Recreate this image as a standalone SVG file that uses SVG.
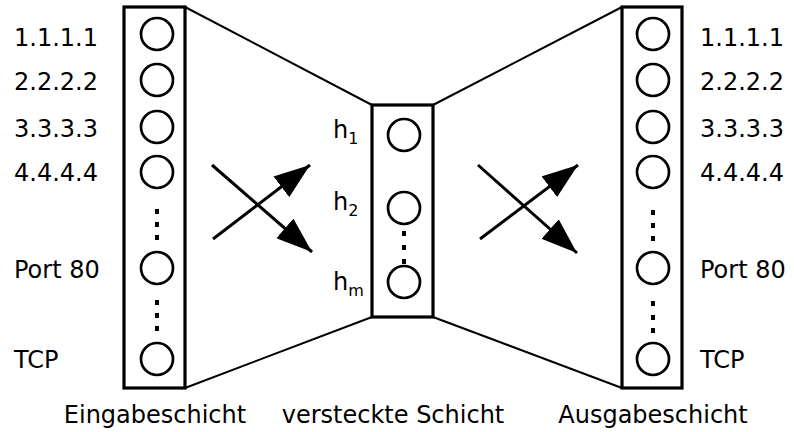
<svg xmlns="http://www.w3.org/2000/svg" width="794" height="432" viewBox="0 0 794 432">
<defs>
<style>
.box{fill:#fff;stroke:#000;stroke-width:3.2}
.n{fill:none;stroke:#000;stroke-width:2.7}
.e{fill:none;stroke:#000;stroke-width:2}
.a{fill:none;stroke:#000;stroke-width:3}
.t{font-family:"DejaVu Sans",Verdana,sans-serif;font-size:24px;fill:#000}
.s{font-size:16px}
.d{fill:#000}
</style>
<marker id="ah2" viewBox="0 0 36 26" refX="36" refY="13" markerWidth="36" markerHeight="26" orient="auto" markerUnits="userSpaceOnUse">
<path d="M0,0 L36,13 L0,26 Z" fill="#000"/>
</marker>
</defs>
<rect width="794" height="432" fill="#fff"/>
<g id="connectors">
<polyline class="e" points="185,7 372,105"/>
<polyline class="e" points="185,388 372,317"/>
<polyline class="e" points="433,105 622,7"/>
<polyline class="e" points="433,317 622,388"/>
<line class="a" x1="212" y1="165" x2="312" y2="252" marker-end="url(#ah2)"/>
<line class="a" x1="213" y1="239" x2="310" y2="165" marker-end="url(#ah2)"/>
<line class="a" x1="478" y1="165" x2="577" y2="253" marker-end="url(#ah2)"/>
<line class="a" x1="480" y1="239" x2="578" y2="165" marker-end="url(#ah2)"/>
</g>
<g id="input-layer">
<rect class="box" x="124" y="7" width="61" height="381"/>
<circle class="n" cx="157" cy="34" r="16"/>
<circle class="n" cx="157" cy="80" r="16"/>
<circle class="n" cx="157" cy="127" r="16"/>
<circle class="n" cx="157" cy="172" r="16"/>
<circle class="n" cx="157" cy="268" r="16"/>
<circle class="n" cx="157" cy="359" r="16"/>
<rect class="d" x="155" y="209" width="4" height="5"/>
<rect class="d" x="155" y="222" width="4" height="5"/>
<rect class="d" x="155" y="235" width="4" height="5"/>
<rect class="d" x="155" y="300" width="4" height="5"/>
<rect class="d" x="155" y="313" width="4" height="5"/>
<rect class="d" x="155" y="326" width="4" height="5"/>
<text class="t" x="14" y="46">1.1.1.1</text>
<text class="t" x="14" y="90">2.2.2.2</text>
<text class="t" x="14" y="137">3.3.3.3</text>
<text class="t" x="14" y="181">4.4.4.4</text>
<text class="t" x="14" y="278">Port 80</text>
<text class="t" x="14" y="368">TCP</text>
<text class="t" x="155" y="423" text-anchor="middle">Eingabeschicht</text>
</g>
<g id="hidden-layer">
<rect class="box" x="372" y="105" width="61" height="212"/>
<circle class="n" cx="404" cy="135" r="16"/>
<circle class="n" cx="404" cy="208" r="16"/>
<circle class="n" cx="404" cy="282" r="16"/>
<rect class="d" x="402" y="231" width="4" height="5"/>
<rect class="d" x="402" y="245" width="4" height="5"/>
<rect class="d" x="402" y="259" width="4" height="5"/>
<text class="t" x="333" y="138">h<tspan class="s" dy="6">1</tspan></text>
<text class="t" x="333" y="210">h<tspan class="s" dy="6">2</tspan></text>
<text class="t" x="333" y="290">h<tspan class="s" dy="6">m</tspan></text>
<text class="t" x="393" y="423" text-anchor="middle">versteckte Schicht</text>
</g>
<g id="output-layer">
<rect class="box" x="622" y="7" width="60" height="381"/>
<circle class="n" cx="653" cy="34" r="16"/>
<circle class="n" cx="653" cy="80" r="16"/>
<circle class="n" cx="653" cy="127" r="16"/>
<circle class="n" cx="653" cy="172" r="16"/>
<circle class="n" cx="653" cy="268" r="16"/>
<circle class="n" cx="653" cy="359" r="16"/>
<rect class="d" x="651" y="210" width="4" height="5"/>
<rect class="d" x="651" y="223" width="4" height="5"/>
<rect class="d" x="651" y="236" width="4" height="5"/>
<rect class="d" x="651" y="301" width="4" height="5"/>
<rect class="d" x="651" y="315" width="4" height="5"/>
<rect class="d" x="651" y="328" width="4" height="5"/>
<text class="t" x="700" y="46">1.1.1.1</text>
<text class="t" x="700" y="90">2.2.2.2</text>
<text class="t" x="700" y="137">3.3.3.3</text>
<text class="t" x="700" y="181">4.4.4.4</text>
<text class="t" x="700" y="278">Port 80</text>
<text class="t" x="700" y="368">TCP</text>
<text class="t" x="653" y="423" text-anchor="middle">Ausgabeschicht</text>
</g>
</svg>
